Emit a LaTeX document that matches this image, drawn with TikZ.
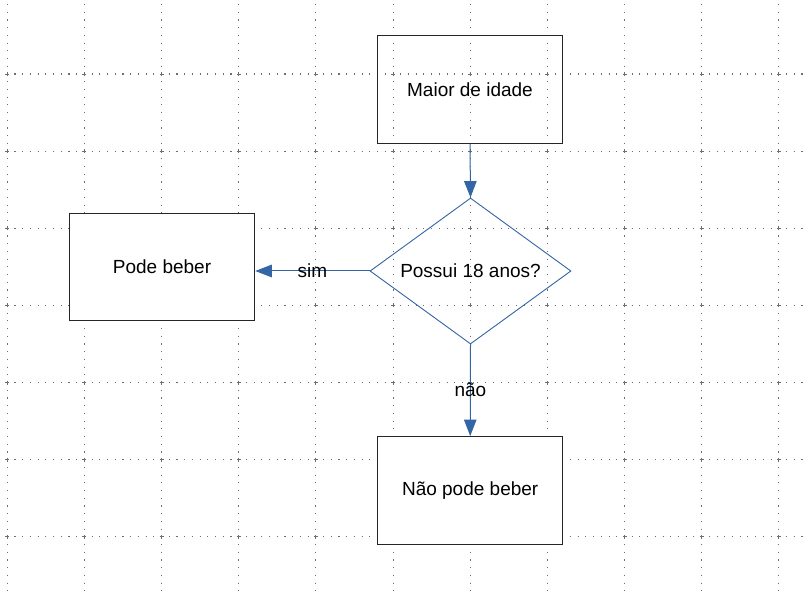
\documentclass[tikz,border=0pt]{standalone}
\usepackage{fontspec}
\setmainfont{Liberation Sans}
\usetikzlibrary{shapes.geometric,arrows.meta}
\definecolor{lblue}{HTML}{3465A4}
\definecolor{gridc}{HTML}{6E6E6E}
\tikzset{
  procbox/.style={draw=black!85,line width=1pt,minimum width=185.5pt,minimum height=107.5pt,inner sep=0pt,font=\fontsize{19}{23}\selectfont},
  decis/.style={draw=lblue,line width=0.9pt,shape=diamond,aspect=1.377,minimum width=201pt,minimum height=146pt,inner sep=0pt,font=\fontsize{19}{23}\selectfont},
  conn/.style={draw=lblue,line width=1pt,-{Triangle[length=16.5pt,width=12.5pt]}},
  lbl/.style={font=\fontsize{19}{23}\selectfont,inner sep=0pt,text=black},
  gridline/.style={draw=gridc,line width=1.1pt,dash pattern=on 1.1pt off 6.615pt},
  gridcross/.style={draw=gridc,line width=0.9pt}
}
\begin{document}
\begin{tikzpicture}[x=1pt,y=-1pt]
\useasboundingbox (0,0) rectangle (808,593);
\fill[white] (0,0) rectangle (808,593);
% grid
\foreach \i in {0,...,10}{
  \pgfmathsetmacro{\gx}{7.3+77.15*\i}
  \draw[gridline] (\gx,-3.7) -- (\gx,600);
}
\foreach \j in {0,...,6}{
  \pgfmathsetmacro{\gy}{74+77.15*\j}
  \draw[gridline] (-0.965,\gy) -- (815,\gy);
}
\foreach \i in {0,...,10}{
  \foreach \j in {0,...,6}{
    \pgfmathsetmacro{\gx}{7.3+77.15*\i}
    \pgfmathsetmacro{\gy}{74+77.15*\j}
    \draw[gridcross] (\gx-2,\gy) -- (\gx+2,\gy) (\gx,\gy-2) -- (\gx,\gy+2);
  }
}
% nodes
\node[procbox] (maior) at (470,89.7) {Maior de idade};
\node[decis] (dec) at (470.5,271) {Possui 18 anos?};
\node[procbox,fill=white] (pode) at (162,267) {Pode beber};
\node[procbox,fill=white] (nao) at (470.2,490.3) {Não pode beber};
% connectors
\draw[conn] (maior.south) -- (dec.north);
\draw[conn] (dec.west) -- (dec.west -| pode.east) node[lbl,pos=0.5] (sim) {sim};
\draw[conn] (dec.south) -- (nao.north) node[lbl,pos=0.5] (naolbl) {não};
\end{tikzpicture}
\end{document}
